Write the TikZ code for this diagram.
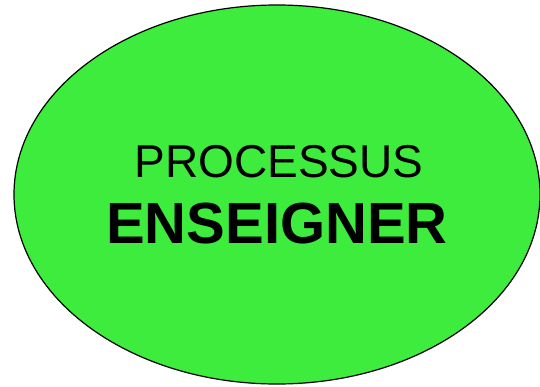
\documentclass[tikz,border=0pt]{standalone}
\usepackage{fontspec}
\setmainfont{Liberation Sans}
\usetikzlibrary{shapes.geometric}
\definecolor{procgreen}{RGB}{62,236,62}
\tikzset{
  procshape/.style={ellipse, draw=black, line width=1.2pt, fill=procgreen,
    minimum width=526pt, minimum height=379pt, inner sep=0pt},
  proclabel/.style={anchor=base, inner sep=0pt, text=black}
}
\begin{document}
\begin{tikzpicture}[x=1pt,y=1pt]
  \useasboundingbox (0,0) rectangle (540,386);
  \node[procshape] (proc) at (277,191.5) {};
  \node[proclabel, font=\fontsize{46}{50}\selectfont] (t1) at (279,208) {PROCESSUS};
  \node[proclabel, font=\bfseries\fontsize{58}{62}\selectfont] (t2) at (277,143) {ENSEIGNER};
\end{tikzpicture}
\end{document}
